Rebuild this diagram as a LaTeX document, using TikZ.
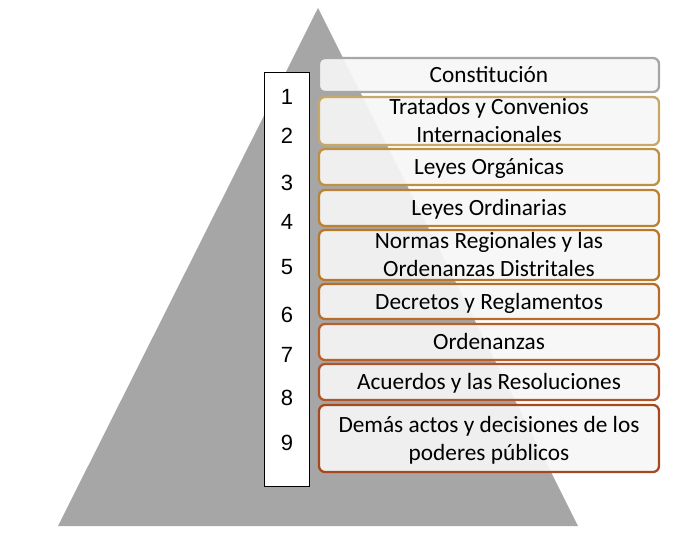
\documentclass[tikz,border=0pt]{standalone}
\usepackage{fontspec}
\setmainfont{Carlito}
\newfontfamily\numfont{Liberation Sans}
\definecolor{tri}{HTML}{A6A6A6}
\definecolor{b1}{HTML}{A6A6A6}
\definecolor{b2}{HTML}{C8A868}
\definecolor{b3}{HTML}{C09040}
\definecolor{b4}{HTML}{BA8232}
\definecolor{b5}{HTML}{B87828}
\definecolor{b6}{HTML}{B86C2A}
\definecolor{b7}{HTML}{B86028}
\definecolor{b8}{HTML}{B0552A}
\definecolor{b9}{HTML}{A8481E}
\definecolor{boxfill}{HTML}{F6F6F6}
\begin{document}
\begin{tikzpicture}[x=1pt,y=-1pt,
  level/.style={draw=#1, line width=2.3pt, rounded corners=6pt, fill=boxfill, fill opacity=0.92, text opacity=1,
    minimum width=340pt, align=center, inner sep=0pt, text height=15pt, text depth=0pt,
    font=\fontsize{23.3}{28}\selectfont},
  twoline/.style={text height=43pt, text depth=0pt},
  num/.style={font=\numfont\fontsize{22}{22}\selectfont, inner sep=0pt}]
\useasboundingbox (0,0) rectangle (698,542);
\fill[tri] (318,8) -- (578,526) -- (58,526) -- cycle;
\node[draw=black, fill=white, line width=1pt, minimum width=45pt, minimum height=414pt, inner sep=0pt] (nbox) at (286.5,279) {};
\node[num] (n1) at (287,97) {1};
\node[num] (n2) at (287,136) {2};
\node[num] (n3) at (287,183) {3};
\node[num] (n4) at (287,222) {4};
\node[num] (n5) at (287,267) {5};
\node[num] (n6) at (287,315) {6};
\node[num] (n7) at (287,355) {7};
\node[num] (n8) at (287,398) {8};
\node[num] (n9) at (287,443) {9};
\node[level=b1, minimum height=34pt] (l1) at (489,75) {Constitución};
\node[level=b2, twoline, minimum height=48pt] (l2) at (489,121) {Tratados y Convenios\\Internacionales};
\node[level=b3, minimum height=36pt] (l3) at (489,167) {Leyes Orgánicas};
\node[level=b4, minimum height=36pt] (l4) at (489,208) {Leyes Ordinarias};
\node[level=b5, twoline, minimum height=50pt] (l5) at (489,255) {Normas Regionales y las\\Ordenanzas Distritales};
\node[level=b6, minimum height=35pt] (l6) at (489,301.5) {Decretos y Reglamentos};
\node[level=b7, minimum height=36pt] (l7) at (489,342) {Ordenanzas};
\node[level=b8, minimum height=36pt] (l8) at (489,382) {Acuerdos y las Resoluciones};
\node[level=b9, twoline, minimum height=67pt] (l9) at (489,438.5) {Demás actos y decisiones de los\\poderes públicos};
\end{tikzpicture}
\end{document}
